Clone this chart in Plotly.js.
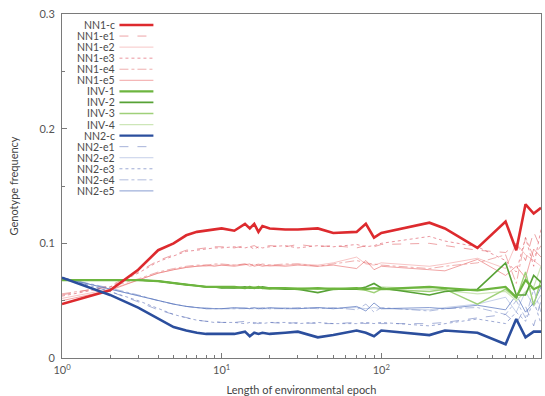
<!DOCTYPE html>
<html>
<head>
<meta charset="utf-8">
<script src="https://cdn.plot.ly/plotly-3.0.1.min.js"></script>
<style>html,body{margin:0;padding:0;background:#fff}#chart{width:545px;height:396px}</style>
</head>
<body>
<div id="chart"></div>
<script>
// ---- data ----
var epochLength = [1,2,3,4,5,6,7,8,9,10,12,14,15,16,17,18,20,25,30,40,50,70,80,90,100,200,250,400,600,700,800,900,1000];

var NN1_c  = [.047,.059,.077,.094,.100,.107,.110,.111,.112,.113,.111,.117,.113,.117,.110,.115,.113,.112,.112,.113,.109,.110,.117,.105,.109,.118,.113,.096,.119,.094,.134,.126,.131];
var NN1_e1 = [.055,.063,.075,.085,.090,.094,.095,.096,.097,.097,.096,.098,.097,.098,.096,.097,.098,.097,.099,.097,.098,.096,.098,.097,.099,.100,.098,.094,.092,.100,.085,.110,.095];
var NN1_e2 = [.052,.060,.068,.074,.077,.079,.080,.080,.081,.081,.081,.082,.080,.081,.082,.081,.080,.081,.082,.081,.083,.088,.082,.081,.083,.080,.082,.087,.078,.100,.090,.085,.080];
var NN1_e3 = [.054,.062,.074,.084,.089,.093,.094,.095,.096,.096,.097,.096,.097,.095,.097,.096,.097,.098,.096,.098,.097,.099,.097,.098,.100,.106,.102,.097,.085,.075,.105,.080,.112];
var NN1_e4 = [.056,.062,.069,.075,.078,.080,.081,.081,.082,.082,.081,.082,.081,.082,.081,.082,.081,.082,.082,.080,.082,.085,.083,.082,.081,.078,.080,.083,.090,.065,.105,.088,.098];
var NN1_e5 = [.050,.059,.068,.074,.077,.079,.080,.081,.080,.081,.080,.081,.082,.080,.081,.080,.081,.080,.081,.080,.081,.078,.085,.077,.080,.077,.076,.086,.072,.080,.070,.095,.088];

var INV_1 = [.068,.068,.068,.067,.065,.064,.063,.062,.062,.062,.062,.061,.062,.061,.062,.061,.061,.061,.060,.061,.060,.061,.060,.061,.060,.062,.061,.059,.062,.053,.068,.060,.063];
var INV_2 = [.068,.068,.068,.067,.065,.064,.063,.062,.062,.061,.061,.062,.061,.061,.061,.062,.061,.060,.060,.057,.060,.060,.062,.065,.061,.055,.058,.060,.083,.055,.055,.072,.066];
var INV_3 = [.068,.068,.068,.067,.065,.064,.063,.062,.062,.062,.061,.061,.061,.062,.061,.061,.060,.061,.061,.060,.061,.060,.059,.057,.060,.058,.060,.047,.060,.052,.075,.046,.068];
var INV_4 = [.068,.068,.068,.067,.065,.064,.063,.062,.062,.061,.062,.061,.061,.061,.062,.061,.061,.060,.061,.061,.060,.061,.061,.060,.062,.060,.059,.056,.058,.050,.058,.062,.080];

var NN2_c  = [.070,.055,.044,.034,.027,.024,.022,.021,.021,.021,.021,.023,.019,.022,.021,.022,.021,.022,.023,.018,.020,.024,.022,.019,.024,.020,.024,.022,.012,.034,.018,.023,.023];
var NN2_e1 = [.070,.058,.049,.042,.038,.035,.033,.032,.032,.031,.031,.032,.031,.031,.030,.031,.031,.030,.031,.030,.030,.031,.030,.031,.030,.030,.031,.035,.038,.030,.045,.028,.050];
var NN2_e2 = [.070,.060,.054,.050,.047,.045,.044,.044,.043,.043,.043,.044,.043,.043,.044,.043,.043,.044,.043,.044,.043,.044,.043,.044,.043,.042,.044,.047,.053,.040,.058,.045,.055];
var NN2_e3 = [.070,.058,.050,.043,.038,.035,.033,.032,.031,.031,.031,.030,.031,.030,.031,.030,.031,.031,.030,.031,.030,.030,.031,.030,.031,.028,.030,.034,.030,.040,.032,.050,.030];
var NN2_e4 = [.070,.061,.055,.050,.047,.045,.044,.043,.043,.043,.043,.043,.044,.043,.043,.044,.043,.043,.044,.043,.044,.042,.047,.040,.044,.041,.043,.044,.038,.050,.035,.060,.040];
var NN2_e5 = [.070,.060,.054,.050,.047,.045,.044,.043,.043,.043,.044,.043,.043,.044,.043,.043,.044,.043,.043,.044,.043,.045,.041,.048,.043,.044,.043,.046,.042,.055,.040,.048,.062];

var seriesNames = ["NN1-c","NN1-e1","NN1-e2","NN1-e3","NN1-e4","NN1-e5","INV-1","INV-2","INV-3","INV-4","NN2-c","NN2-e1","NN2-e2","NN2-e3","NN2-e4","NN2-e5"];
var seriesValues = [NN1_c,NN1_e1,NN1_e2,NN1_e3,NN1_e4,NN1_e5,INV_1,INV_2,INV_3,INV_4,NN2_c,NN2_e1,NN2_e2,NN2_e3,NN2_e4,NN2_e5];
var xTickVals = [1,10,100,1000];
var xTickText = ["10<sup>0</sup>","10<sup>1</sup>","10<sup>2</sup>","10<sup>3</sup>"];
var yTickVals = [0,0.1,0.2,0.3];
var yTickText = ["0","0.1","0.2","0.3"];

// ---- styles ----
var styles = [
  {color:"#dd2a2e", width:2.6, dash:"solid"},
  {color:"rgba(222,90,95,0.55)", width:1, dash:"dash"},
  {color:"rgba(240,150,150,0.55)", width:1, dash:"solid"},
  {color:"rgba(220,80,95,0.6)", width:1, dash:"dot"},
  {color:"rgba(225,110,110,0.55)", width:1, dash:"dashdot"},
  {color:"rgba(232,105,105,0.6)", width:1, dash:"solid"},
  {color:"#6db53f", width:2.2, dash:"solid"},
  {color:"#57a236", width:1.6, dash:"solid"},
  {color:"#9fd079", width:1.4, dash:"solid"},
  {color:"#cde6b8", width:1.2, dash:"solid"},
  {color:"#2b4e9d", width:2.6, dash:"solid"},
  {color:"rgba(95,115,185,0.55)", width:1, dash:"dash"},
  {color:"rgba(150,170,215,0.55)", width:1, dash:"solid"},
  {color:"rgba(95,115,185,0.6)", width:1, dash:"dot"},
  {color:"rgba(115,135,195,0.55)", width:1, dash:"dashdot"},
  {color:"rgba(85,115,190,0.7)", width:1, dash:"solid"}
];

// draw faint lines first, main lines last
var drawOrder = [1,2,3,4,5,11,12,13,14,15,9,8,7,6,0,10];
var traces = drawOrder.map(function(i){
  return {x: epochLength, y: seriesValues[i], name: seriesNames[i], type:"scatter", mode:"lines",
          line:{color:styles[i].color, width:styles[i].width, dash:styles[i].dash}, showlegend:false};
});

// ---- custom legend (text on the left, sample line on the right) ----
var L = 61.5, R = 541, T = 14, B = 358;
function px2paperX(p){return (p-L)/(R-L);}
function px2paperY(p){return (B-p)/(B-T);}
var annotations = [], shapes = [];
seriesNames.forEach(function(n,i){
  var yy = 25 + 11.06*i;
  annotations.push({xref:"paper", yref:"paper", x:px2paperX(116), y:px2paperY(yy), xanchor:"right", yanchor:"middle",
    text:n, showarrow:false, borderpad:0, font:{family:"Lato, sans-serif", size:10.5, color:"#4a4a4a"}});
  shapes.push({type:"line", xref:"paper", yref:"paper", x0:px2paperX(119), x1:px2paperX(153), y0:px2paperY(yy), y1:px2paperY(yy),
    line:{color:styles[i].color, width:Math.min(styles[i].width,2.4), dash:styles[i].dash}});
});

var axisColor = "#7a7a7a";
var layout = {
  width:545, height:396,
  margin:{l:L, r:545-R, t:T, b:396-B},
  paper_bgcolor:"#fff", plot_bgcolor:"#fff",
  font:{family:"Lato, sans-serif", color:"#4a4a4a", size:11},
  showlegend:false,
  xaxis:{type:"log", range:[0,3], showgrid:false, zeroline:false,
    showline:true, linecolor:axisColor, linewidth:1, mirror:true,
    ticks:"inside", ticklen:5, tickcolor:axisColor,
    tickmode:"array", tickvals:xTickVals, ticktext:xTickText,
    tickfont:{size:11, color:"#555"}, ticklabelstandoff:2,
    minor:{ticks:"inside", ticklen:3, tickcolor:axisColor,
      tickvals:[2,3,4,5,6,7,8,9,20,30,40,50,60,70,80,90,200,300,400,500,600,700,800,900]},
    title:{text:"Length of environmental epoch", font:{size:11, color:"#444"}, standoff:13}},
  yaxis:{range:[0,0.3], showgrid:false, zeroline:false,
    showline:true, linecolor:axisColor, linewidth:1, mirror:true,
    ticks:"inside", ticklen:5, tickcolor:axisColor,
    tickmode:"array", tickvals:yTickVals, ticktext:yTickText,
    tickfont:{size:11, color:"#555"}, ticklabelstandoff:4,
    minor:{ticks:"inside", ticklen:3, tickcolor:axisColor, tickvals:[0.05,0.15,0.25]},
    title:{text:"Genotype frequency", font:{size:11, color:"#444"}, standoff:18}},
  annotations:annotations,
  shapes:shapes
};

Plotly.newPlot("chart", traces, layout, {displayModeBar:false, staticPlot:true});
</script>
</body>
</html>
